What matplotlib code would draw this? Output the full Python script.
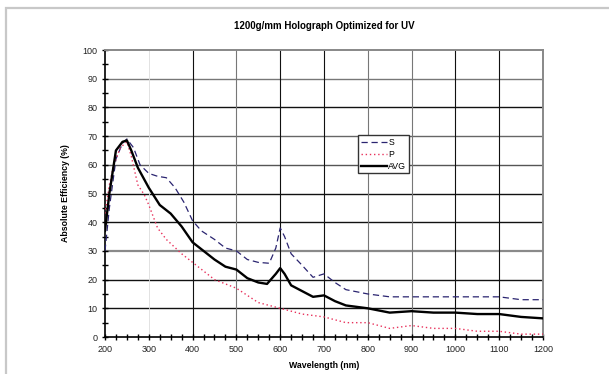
import matplotlib.pyplot as plt
from matplotlib.patches import Rectangle
from matplotlib.ticker import MultipleLocator

plt.rcParams['font.family'] = ['Liberation Sans', 'DejaVu Sans']

# Efficiency curves (wavelength in nm, efficiency in %)
wl_s = [200, 210, 225, 240, 250, 265, 280, 300, 320, 340, 360, 380, 400, 420,
        450, 475, 500, 525, 550, 575, 590, 600, 610, 625, 650, 675, 700, 725,
        750, 800, 850, 900, 1000, 1100, 1150, 1200]
eff_s = [30, 45, 62, 67.5, 69, 66, 60, 57, 56, 55.5, 52, 47, 40.5, 37,
         34, 31, 30, 27, 26, 25.7, 31, 38, 35, 29, 25, 20.8, 22, 19,
         16.5, 15, 14, 14, 14, 14, 13, 13]

wl_p = [200, 210, 220, 235, 250, 260, 275, 290, 300, 320, 340, 375, 400, 425,
        450, 475, 500, 525, 550, 575, 600, 625, 650, 675, 700, 725, 750, 800,
        825, 850, 875, 900, 925, 950, 1000, 1050, 1100, 1150, 1200]
eff_p = [43, 53, 60, 66, 68, 63, 53, 49.5, 46, 38, 34, 29, 26, 23,
         20, 18.5, 17, 14.5, 12, 11, 10, 9, 8, 7.5, 7, 6, 5, 5,
         4, 3, 3.5, 4, 3.5, 3, 3, 2, 2, 1, 1]

wl_avg = [200, 210, 225, 240, 250, 260, 275, 300, 325, 350, 375, 400, 425, 450,
          475, 500, 525, 550, 570, 590, 600, 610, 625, 650, 675, 700, 725, 750,
          800, 850, 900, 950, 1000, 1050, 1100, 1150, 1200]
eff_avg = [37, 50, 65, 68, 68.5, 65, 59, 52, 46, 43, 38.5, 33, 30, 27,
           24.5, 23.5, 20.5, 19, 18.5, 22, 24, 22, 18, 16, 14, 14.5, 12.5, 11,
           10, 8.5, 9, 8.5, 8.5, 8, 8, 7, 6.5]

fig = plt.figure(figsize=(6.09, 3.74), dpi=100)
ax = fig.add_axes([0.1724, 0.0989, 0.7192, 0.7674])

# light gray page frame
fig.add_artist(Rectangle((6 / 609, -0.1), 1.2, 1.1 - 8 / 374, transform=fig.transFigure,
                         fill=False, edgecolor='#c8c8c8', linewidth=1.6))

# grid lines drawn by hand so each can carry its own shade
hgrid = {10: '#111111', 20: '#111111', 30: '#8a8a8a', 40: '#111111', 50: '#111111',
         60: '#555555', 70: '#666666', 80: '#111111', 90: '#777777'}
vgrid = {300: '#dddddd', 400: '#111111', 500: '#777777', 600: '#111111', 700: '#111111',
         800: '#777777', 900: '#777777', 1000: '#111111', 1100: '#111111'}
for yv, c in hgrid.items():
    ax.axhline(yv, color=c, linewidth=1.0 if c != '#8a8a8a' else 1.6, zorder=1)
for xv, c in vgrid.items():
    ax.axvline(xv, color=c, linewidth=0.8 if c != '#dddddd' else 0.6, zorder=1)

ax.plot(wl_s, eff_s, color='#2a2470', linestyle=(0, (5, 3)), linewidth=0.9, label='S', zorder=3)
ax.plot(wl_p, eff_p, color='#e8305a', linestyle=(0, (1, 2)), linewidth=1.0, label='P', zorder=3)
ax.plot(wl_avg, eff_avg, color='black', linewidth=1.7, label='AVG', zorder=4)

ax.set_xlim(200, 1200)
ax.set_ylim(0, 100)
ax.xaxis.set_major_locator(MultipleLocator(100))
ax.xaxis.set_minor_locator(MultipleLocator(25))
ax.yaxis.set_major_locator(MultipleLocator(10))
ax.yaxis.set_minor_locator(MultipleLocator(5))
ax.tick_params(which='both', direction='inout', labelsize=6.5, colors='black', width=1.0)
ax.tick_params(which='major', length=5, pad=3)
ax.tick_params(which='minor', length=4)
ax.tick_params(axis='both', labelcolor='#222222')

for side in ['top', 'right']:
    ax.spines[side].set_color('#888888')
    ax.spines[side].set_linewidth(1.4)
ax.spines['left'].set_linewidth(1.2)
ax.spines['bottom'].set_linewidth(1.2)

ax.set_title('1200g/mm Holograph Optimized for UV', fontsize=7, fontweight='bold', pad=15)
ax.set_xlabel('Wavelength (nm)', fontsize=6.3, fontweight='bold', labelpad=5)
ax.set_ylabel('Absolute Efficiency (%)', fontsize=6.3, fontweight='bold', labelpad=9)

leg = ax.legend(loc='upper left', bbox_to_anchor=((358 - 105) / 438, (337 - 135) / 287),
                fontsize=6.3, frameon=True, fancybox=False, handlelength=3.0,
                handletextpad=0.15, borderpad=0.3, labelspacing=0.35, borderaxespad=0)
leg.get_frame().set_edgecolor('#333333')
leg.get_frame().set_linewidth(1.0)
leg.get_frame().set_alpha(1)

fig.savefig('out.png', dpi=100)
